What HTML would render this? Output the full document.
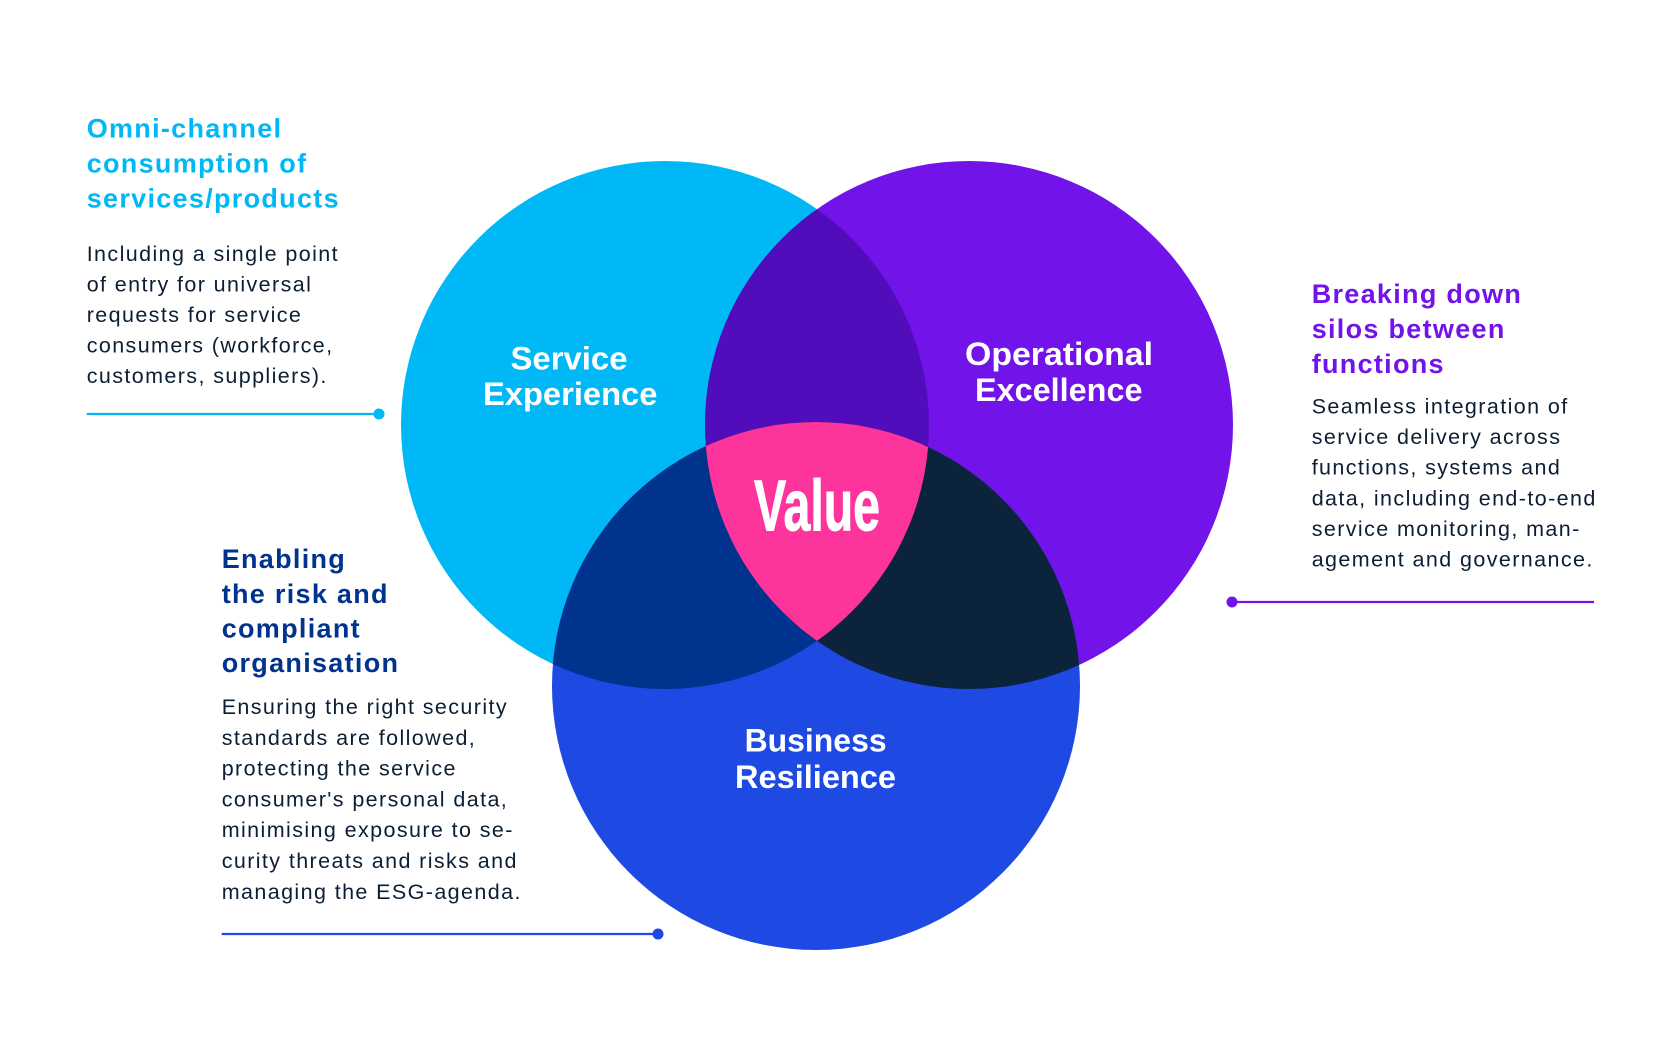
<!DOCTYPE html>
<html>
<head>
<meta charset="utf-8">
<style>
  html, body { margin: 0; padding: 0; background: #ffffff; }
  body { width: 1680px; height: 1050px; overflow: hidden; }
  svg { display: block; }
  .h { font-family: "Liberation Sans", Arial, sans-serif; font-weight: bold; font-size: 27px; letter-spacing: 1.3px; }
  .b { font-family: "Liberation Sans", Arial, sans-serif; font-size: 21.5px; letter-spacing: 1.4px; fill: #0c1e33; }
  .c { font-family: "Liberation Sans", Arial, sans-serif; font-weight: bold; font-size: 32px; fill: #ffffff; }
</style>
</head>
<body>
<svg width="1680" height="1050" viewBox="0 0 1680 1050" xmlns="http://www.w3.org/2000/svg">
  <defs>
    <clipPath id="cSE"><circle cx="665" cy="425" r="264"/></clipPath>
    <clipPath id="cOE"><circle cx="969" cy="425" r="264"/></clipPath>
  </defs>
  <rect width="1680" height="1050" fill="#ffffff"/>

  <!-- circles -->
  <circle cx="665" cy="425" r="264" fill="#00B8F5"/>
  <circle cx="969" cy="425" r="264" fill="#7213EA"/>
  <circle cx="816" cy="686" r="264" fill="#1E49E2"/>

  <!-- pairwise intersections -->
  <circle cx="969" cy="425" r="264" fill="#510DBC" clip-path="url(#cSE)"/>
  <circle cx="816" cy="686" r="264" fill="#00338D" clip-path="url(#cSE)"/>
  <circle cx="816" cy="686" r="264" fill="#0C233C" clip-path="url(#cOE)"/>
  <!-- center -->
  <g clip-path="url(#cSE)">
    <circle cx="816" cy="686" r="264" fill="#FD349C" clip-path="url(#cOE)"/>
  </g>

  <!-- circle labels -->
  <text class="c" x="510.5" y="369.3" textLength="117" lengthAdjust="spacingAndGlyphs">Service</text>
  <text class="c" x="483" y="405" textLength="174.4" lengthAdjust="spacingAndGlyphs">Experience</text>
  <text class="c" x="965" y="365" textLength="188" lengthAdjust="spacingAndGlyphs">Operational</text>
  <text class="c" x="975" y="401" textLength="167.5" lengthAdjust="spacingAndGlyphs">Excellence</text>
  <text class="c" x="744.6" y="751.7" textLength="142" lengthAdjust="spacingAndGlyphs">Business</text>
  <text class="c" x="735" y="788" textLength="161" lengthAdjust="spacingAndGlyphs">Resilience</text>
  <text x="754" y="530.7" font-family="Liberation Sans, Arial, sans-serif" font-weight="bold" font-size="72" fill="#ffffff" stroke="#ffffff" stroke-width="1" textLength="126" lengthAdjust="spacingAndGlyphs">Value</text>

  <!-- top-left block -->
  <g fill="#00B8F5">
    <text class="h" x="86.7" y="137.3">Omni-channel</text>
    <text class="h" x="86.7" y="172.5">consumption of</text>
    <text class="h" x="86.7" y="207.7">services/products</text>
  </g>
  <text class="b" x="86.7" y="261">Including a single point</text>
  <text class="b" x="86.7" y="291.5">of entry for universal</text>
  <text class="b" x="86.7" y="322">requests for service</text>
  <text class="b" x="86.7" y="352.5">consumers (workforce,</text>
  <text class="b" x="86.7" y="383">customers, suppliers).</text>
  <line x1="86.7" y1="414" x2="379" y2="414" stroke="#00B8F5" stroke-width="2.2"/>
  <circle cx="379" cy="414" r="5.5" fill="#00B8F5"/>

  <!-- right block -->
  <g fill="#7213EA">
    <text class="h" x="1311.7" y="303">Breaking down</text>
    <text class="h" x="1311.7" y="338">silos between</text>
    <text class="h" x="1311.7" y="373">functions</text>
  </g>
  <text class="b" x="1311.7" y="413.3">Seamless integration of</text>
  <text class="b" x="1311.7" y="444">service delivery across</text>
  <text class="b" x="1311.7" y="474.7">functions, systems and</text>
  <text class="b" x="1311.7" y="505.3">data, including end-to-end</text>
  <text class="b" x="1311.7" y="536">service monitoring, man-</text>
  <text class="b" x="1311.7" y="566.7">agement and governance.</text>
  <line x1="1232" y1="602" x2="1594" y2="602" stroke="#7213EA" stroke-width="2.2"/>
  <circle cx="1232" cy="602" r="5.5" fill="#7213EA"/>

  <!-- bottom-left block -->
  <g fill="#00338D">
    <text class="h" x="221.7" y="568">Enabling</text>
    <text class="h" x="221.7" y="603">the risk and</text>
    <text class="h" x="221.7" y="637.5">compliant</text>
    <text class="h" x="221.7" y="672">organisation</text>
  </g>
  <text class="b" x="221.7" y="714">Ensuring the right security</text>
  <text class="b" x="221.7" y="744.8">standards are followed,</text>
  <text class="b" x="221.7" y="775.6">protecting the service</text>
  <text class="b" x="221.7" y="806.4">consumer's personal data,</text>
  <text class="b" x="221.7" y="837.2">minimising exposure to se-</text>
  <text class="b" x="221.7" y="868">curity threats and risks and</text>
  <text class="b" x="221.7" y="898.8">managing the ESG-agenda.</text>
  <line x1="221.7" y1="934" x2="658" y2="934" stroke="#1E49E2" stroke-width="2.2"/>
  <circle cx="658" cy="934" r="5.5" fill="#1E49E2"/>
</svg>
</body>
</html>
